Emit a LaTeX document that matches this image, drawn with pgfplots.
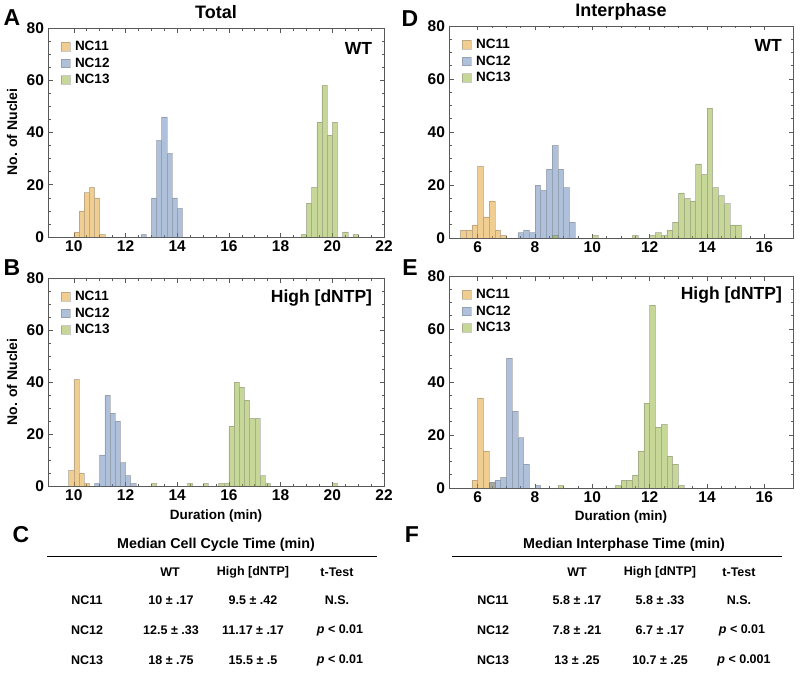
\documentclass[border=0pt]{standalone}
\usepackage{fontspec}
\setmainfont{Liberation Sans}
\usepackage{pgfplots}
\pgfplotsset{compat=1.18}

\definecolor{cOr}{rgb}{0.880722,0.611041,0.142051}
\definecolor{cBl}{rgb}{0.368417,0.506779,0.709798}
\definecolor{cGr}{rgb}{0.560181,0.691569,0.194885}
\definecolor{frame}{gray}{0.35}

\newcommand{\fs}[1]{\fontsize{#1}{#1}\selectfont\bfseries}

\pgfplotsset{
  hist/.style={
    scale only axis, ymin=0, ymax=80, ytick={0,20,...,80},
    minor y tick num=3, minor x tick num=3,
    axis line style={frame, line width=0.8pt},
    tick style={frame, line width=0.6pt},
    tick align=inside, major tick length=4.5pt, minor tick length=2.5pt,
    tick label style={font=\fs{15.5}, text=black},
    xticklabel style={yshift=-0.5pt},
    yticklabel style={xshift=-0.5pt},
    /pgf/number format/assume math mode=true,
    legend cell align=left,
    legend style={draw=none, fill=none, font=\fs{13.5}, at={(0,1)}, anchor=north west,
      xshift=12.7pt, yshift=-11pt, row sep=1.7pt, inner sep=0pt,
      /tikz/every odd column/.append style={column sep=3pt}},
  },
  bars/.style={ybar, bar width=0.2, bar shift=0pt, fill=#1, fill opacity=0.5,
    draw=black!60, draw opacity=0.35, line width=0.5pt,
    legend image code/.code={\draw[##1] (0pt,-4.3pt) rectangle (8.6pt,4.3pt);}},
}

\begin{document}
\begin{tikzpicture}
\useasboundingbox (0pt,0pt) rectangle (800pt,-674pt);

% ---------- A: total, WT
\begin{axis}[hist, at={(48pt,-237pt)}, anchor=south west, width=336pt, height=209pt,
  xmin=9, xmax=22, xtick={10,12,...,22}]
\addplot[bars=cOr] coordinates {(10.1,2) (10.3,10) (10.5,17) (10.7,19) (10.9,15) (11.1,1)};
\addplot[bars=cBl] coordinates {(12.7,1) (13.1,15) (13.3,37) (13.5,46) (13.7,32) (13.9,15) (14.1,11)};
\addplot[bars=cGr] coordinates {(18.9,1) (19.1,13) (19.3,19) (19.5,44) (19.7,58) (19.9,39) (20.1,44) (20.5,2) (20.9,1)};
\legend{NC11,NC12,NC13}
\node[anchor=east, font=\fs{17.5}] at (rel axis cs:0.975,0.904) {WT};
\end{axis}

% ---------- B: total, high dNTP
\begin{axis}[hist, at={(48pt,-486pt)}, anchor=south west, width=336pt, height=208pt,
  xmin=9, xmax=22, xtick={10,12,...,22}]
\addplot[bars=cOr] coordinates {(9.9,6) (10.1,41) (10.3,5) (10.5,1)};
\addplot[bars=cBl] coordinates {(10.9,1) (11.1,12) (11.3,35) (11.5,28) (11.7,25) (11.9,9) (12.1,4) (12.3,1)};
\addplot[bars=cGr] coordinates {(13.1,1) (14.5,1) (15.1,1) (15.7,1) (15.9,1) (16.1,23) (16.3,40) (16.5,38) (16.7,33) (16.9,26) (17.1,26) (17.3,4) (17.5,1) (20.1,1)};
\legend{NC11,NC12,NC13}
\node[anchor=east, font=\fs{17.5}] at (rel axis cs:0.975,0.904) {High [dNTP]};
\end{axis}

% ---------- D: interphase, WT
\begin{axis}[hist, at={(449pt,-238pt)}, anchor=south west, width=344pt, height=212pt,
  xmin=5, xmax=17, xtick={6,8,...,16}]
\addplot[bars=cOr] coordinates {(5.5,3) (5.7,3) (5.9,5) (6.1,27) (6.3,8) (6.5,14) (6.7,3) (6.9,1)};
\addplot[bars=cBl] coordinates {(7.5,2) (7.7,3) (7.9,2) (8.1,20) (8.3,18) (8.5,26) (8.7,35) (8.9,26) (9.1,19) (9.3,6)};
\addplot[bars=cGr] coordinates {(8.7,1) (10.1,1) (11.5,1) (12.1,1) (12.3,2) (12.5,1) (12.7,3) (12.9,6) (13.1,17) (13.3,15) (13.5,14) (13.7,28) (13.9,24) (14.1,49) (14.3,19) (14.5,16) (14.7,13) (14.9,5) (15.1,5)};
\legend{NC11,NC12,NC13}
\node[anchor=east, font=\fs{17.5}] at (rel axis cs:0.978,0.908) {WT};
\end{axis}

% ---------- E: interphase, high dNTP
\begin{axis}[hist, at={(449pt,-488pt)}, anchor=south west, width=344pt, height=212pt,
  xmin=5, xmax=17, xtick={6,8,...,16}]
\addplot[bars=cOr] coordinates {(5.9,3) (6.1,34) (6.3,14) (6.5,2)};
\addplot[bars=cBl] coordinates {(6.5,2) (6.7,3) (6.9,4) (7.1,49) (7.3,29) (7.5,19) (7.7,9) (8.1,1)};
\addplot[bars=cGr] coordinates {(8.9,1) (10.9,1) (11.1,3) (11.3,3) (11.5,5) (11.7,14) (11.9,32) (12.1,69) (12.3,23) (12.5,24) (12.7,12) (12.9,9) (13.1,1)};
\legend{NC11,NC12,NC13}
\node[anchor=east, font=\fs{17.5}] at (rel axis cs:0.978,0.908) {High [dNTP]};
\end{axis}

% ---------- titles, panel letters, axis labels
\node[font=\fs{18}] at (216pt,-12pt) {Total};
\node[font=\fs{18}] at (621pt,-12pt) {Interphase};
\foreach \l/\x/\y in {A/12/18, B/12/268, C/21/535, D/410/19, E/410/268, F/412/535}
  \node[font=\fs{23}] at (\x pt,-\y pt) {\l};
\node[font=\fs{14}, rotate=90] at (12pt,-132pt) {No. of Nuclei};
\node[font=\fs{14}, rotate=90] at (12pt,-382pt) {No. of Nuclei};
\node[font=\fs{13.5}] at (216pt,-516pt) {Duration (min)};
\node[font=\fs{13.5}] at (621pt,-517pt) {Duration (min)};

% ---------- C table
\begin{scope}[every node/.style={font=\fs{12.5}}]
\node[font=\fs{14.3}] at (216pt,-545pt) {Median Cell Cycle Time (min)};
\draw[line width=0.8pt] (47pt,-556pt) -- (377pt,-556pt);
\node at (170pt,-572pt) {WT};
\node at (253pt,-572pt) {High [dNTP]};
\node at (337pt,-572pt) {t-Test};
\node at (87pt,-600pt) {NC11};
\node at (87pt,-630pt) {NC12};
\node at (87pt,-660pt) {NC13};
\node at (171pt,-600pt) {10 ± .17};
\node at (171pt,-630pt) {12.5 ± .33};
\node at (171pt,-660pt) {18 ± .75};
\node at (253pt,-600pt) {9.5 ± .42};
\node at (253pt,-630pt) {11.17 ± .17};
\node at (253pt,-660pt) {15.5 ± .5};
\node at (337pt,-600pt) {N.S.};
\node at (340pt,-630pt) {{\itshape p} < 0.01};
\node at (340pt,-660pt) {{\itshape p} < 0.01};

% ---------- F table
\node[font=\fs{14.3}] at (624pt,-545pt) {Median Interphase Time (min)};
\draw[line width=0.8pt] (452pt,-556pt) -- (782pt,-556pt);
\node at (577pt,-572pt) {WT};
\node at (660pt,-572pt) {High [dNTP]};
\node at (739pt,-572pt) {t-Test};
\node at (493pt,-600pt) {NC11};
\node at (493pt,-630pt) {NC12};
\node at (493pt,-660pt) {NC13};
\node at (577pt,-600pt) {5.8 ± .17};
\node at (577pt,-630pt) {7.8 ± .21};
\node at (577pt,-660pt) {13 ± .25};
\node at (660pt,-600pt) {5.8 ± .33};
\node at (660pt,-630pt) {6.7 ± .17};
\node at (660pt,-660pt) {10.7 ± .25};
\node at (739pt,-600pt) {N.S.};
\node at (742pt,-630pt) {{\itshape p} < 0.01};
\node at (744pt,-660pt) {{\itshape p} < 0.001};
\end{scope}
\end{tikzpicture}
\end{document}
